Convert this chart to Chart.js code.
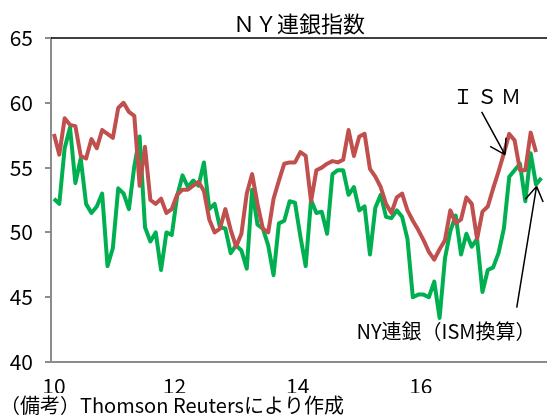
<!DOCTYPE html>
<html>
<head>
<meta charset="utf-8">
<script src="https://cdn.jsdelivr.net/npm/chart.js@4.4.1/dist/chart.umd.min.js"></script>
<style>
  html, body { margin: 0; padding: 0; background: #fff; }
</style>
</head>
<body>
<canvas id="chart" width="547" height="419"></canvas>
<script>
// monthly, Jan 2010 onwards
const ismValues = [
  57.6, 56.0, 58.8, 58.3, 58.2, 55.9, 55.7, 57.2, 56.5, 57.9, 57.6, 57.3,
  59.6, 60.0, 59.3, 59.0, 53.6, 56.6, 52.5, 52.2, 52.6, 51.5, 51.8, 52.9,
  53.3, 53.3, 53.6, 53.9, 53.2, 51.0, 50.0, 50.3, 51.8, 50.2, 48.9, 49.9,
  53.0, 54.5, 52.2, 50.3, 50.0, 52.6, 54.0, 55.3, 55.4, 55.4, 56.2, 55.9,
  52.4, 54.8, 55.0, 55.3, 55.5, 55.4, 55.6, 57.9, 55.9, 57.4, 57.6, 54.9,
  54.3, 53.5, 52.2, 51.5, 52.7, 53.0, 51.7, 50.9, 50.2, 49.4, 48.5, 47.9,
  48.7, 49.4, 51.7, 50.7, 51.0, 52.7, 52.2, 49.5, 51.6, 52.0, 53.4, 54.7,
  56.1, 57.6, 57.1, 54.8, 54.8, 57.7, 56.2
];
const nyFedValues = [
  52.6, 52.2, 56.5, 58.1, 53.8, 55.7, 52.2, 51.5, 52.0, 53.0, 47.4, 48.8,
  53.4, 53.0, 51.8, 55.1, 57.4, 50.4, 49.3, 50.0, 47.1, 50.0, 49.8, 52.8,
  54.4, 53.5, 54.0, 53.6, 55.4, 51.8, 52.2, 50.4, 50.3, 48.4, 49.0, 48.6,
  47.2, 53.3, 50.6, 50.3, 49.0, 46.7, 50.7, 50.9, 52.4, 52.3, 49.7, 47.4,
  52.5, 51.5, 51.6, 49.9, 54.5, 54.8, 54.8, 52.9, 53.5, 51.7, 52.0, 48.3,
  51.9, 52.9, 51.2, 51.1, 51.7, 51.2, 49.5, 45.0, 45.2, 45.2, 45.0, 46.2,
  43.4, 48.0, 50.1, 51.3, 48.3, 49.9, 48.9, 49.5, 45.4, 47.1, 47.3, 48.4,
  50.3, 54.3, 54.8, 55.3, 52.4, 56.1, 53.7, 54.2
];
const xTickPos = [0, 22.5, 45.5, 68.5];
const xTickLabels = ['10', '12', '14', '16'];
const yTicks = [40, 45, 50, 55, 60, 65];

const FONT = "'Noto Sans CJK JP', 'Noto Sans', sans-serif";
Chart.defaults.font.family = FONT;
Chart.defaults.color = '#000';

const toPoints = arr => arr.map((v, i) => ({ x: i, y: v }));

// arrows and their texts, in data units (month index, value)
const notes = [
  { text: 'ＩＳＭ', spacing: '4px', at: [81.2, 60.5], from: [79.85, 59.3], to: [84.2, 56.0] },
  { text: 'NY連銀（ISM換算）', spacing: '0px', at: [73.2, 42.35], from: [86.4, 44.2], to: [90.1, 53.55] }
];

const frameAndNotes = {
  id: 'frameAndNotes',
  beforeDatasetsDraw(chart) {
    const { ctx, chartArea } = chart;
    ctx.save();
    ctx.strokeStyle = '#000';
    ctx.lineWidth = 1.5;
    ctx.beginPath();
    ctx.moveTo(chartArea.left, chartArea.top);
    ctx.lineTo(chartArea.right, chartArea.top);
    ctx.stroke();
    ctx.restore();
  },
  afterDatasetsDraw(chart) {
    const { ctx, scales } = chart;
    const px = p => [scales.x.getPixelForValue(p[0]), scales.y.getPixelForValue(p[1])];
    ctx.save();
    ctx.strokeStyle = '#000';
    ctx.fillStyle = '#000';
    ctx.lineWidth = 1.5;
    ctx.textAlign = 'center';
    ctx.textBaseline = 'middle';
    ctx.font = '20px ' + FONT;
    notes.forEach(n => {
      const [x1, y1] = px(n.from);
      const [x2, y2] = px(n.to);
      ctx.beginPath();
      ctx.moveTo(x1, y1);
      ctx.lineTo(x2, y2);
      const ang = Math.atan2(y1 - y2, x1 - x2);
      [-0.56, 0.56].forEach(d => {
        ctx.moveTo(x2, y2);
        ctx.lineTo(x2 + 17 * Math.cos(ang + d), y2 + 17 * Math.sin(ang + d));
      });
      ctx.stroke();
      const [tx, ty] = px(n.at);
      ctx.letterSpacing = n.spacing;
      ctx.fillText(n.text, tx, ty);
    });
    ctx.restore();
  }
};

new Chart(document.getElementById('chart'), {
  type: 'line',
  data: {
    datasets: [
      {
        label: 'ISM',
        data: toPoints(ismValues),
        borderColor: '#C0504D',
        borderWidth: 4,
        pointRadius: 0,
        tension: 0,
        borderJoinStyle: 'round'
      },
      {
        label: 'NY連銀（ISM換算）',
        data: toPoints(nyFedValues),
        borderColor: '#00B050',
        borderWidth: 4,
        pointRadius: 0,
        tension: 0,
        borderJoinStyle: 'round'
      }
    ]
  },
  options: {
    responsive: false,
    animation: false,
    devicePixelRatio: 1,
    layout: { padding: 0 },
    plugins: {
      legend: { display: false },
      tooltip: { enabled: false },
      title: {
        display: true,
        text: 'ＮＹ連銀指数',
        fullSize: false,
        font: { size: 22, weight: 'normal', lineHeight: 1 },
        color: '#000',
        padding: { top: 13, bottom: 3 }
      },
      subtitle: {
        display: true,
        position: 'bottom',
        align: 'start',
        text: '（備考）Thomson Reutersにより作成',
        font: { size: 20, weight: 'normal' },
        color: '#000',
        padding: { top: 0, bottom: 2 }
      }
    },
    scales: {
      x: {
        type: 'linear',
        min: -0.55,
        max: 92.05,
        afterBuildTicks(scale) {
          scale.ticks = xTickPos.map(v => ({ value: v }));
        },
        afterFit(scale) {
          scale.height = 31;
          scale.paddingLeft = 0;
          scale.paddingRight = 0;
        },
        ticks: {
          autoSkip: false,
          maxRotation: 0,
          padding: 11,
          font: { size: 21 },
          color: '#000',
          callback(value) {
            const k = xTickPos.indexOf(value);
            return k >= 0 ? xTickLabels[k] : '';
          }
        },
        grid: { display: false, drawTicks: false },
        border: { color: '#8c8c8c', width: 2 }
      },
      y: {
        min: 40,
        max: 65,
        afterBuildTicks(scale) {
          scale.ticks = yTicks.map(v => ({ value: v }));
        },
        afterFit(scale) {
          scale.width = 51;
          scale.paddingTop = 0;
          scale.paddingBottom = 0;
        },
        ticks: {
          padding: 12,
          font: { size: 21 },
          color: '#000'
        },
        grid: {
          drawOnChartArea: false,
          drawTicks: true,
          tickLength: 6,
          color: '#8c8c8c',
          lineWidth: 2
        },
        border: { color: '#8c8c8c', width: 2 }
      }
    }
  },
  plugins: [frameAndNotes]
});
</script>
</body>
</html>
